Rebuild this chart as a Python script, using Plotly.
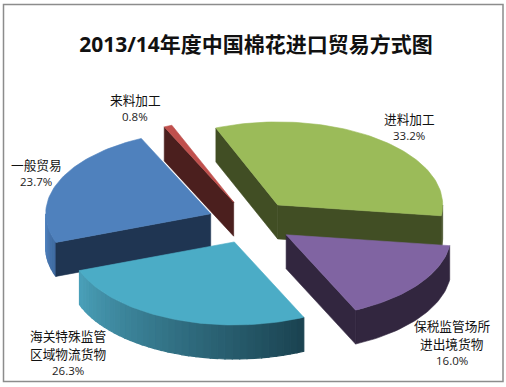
import math
import plotly.graph_objects as go

title = "2013/14年度中国棉花进口贸易方式图"
categories = ["进料加工", "保税监管场所\n进出境货物", "海关特殊监管\n区域物流货物", "一般贸易", "来料加工"]
values = [33.2, 16.0, 26.3, 23.7, 0.8]

top_colors = ["#9BBB59", "#8064A2", "#4BACC6", "#4F81BD", "#C0504D"]
face_colors = ["#414E24", "#32263F", "#1F4A58", "#1F3552", "#4B1F1E"]
wall_from = [(65, 78, 36), (50, 38, 63), (74, 160, 185), (79, 129, 189), (75, 31, 30)]
wall_to = [(65, 78, 36), (50, 38, 63), (26, 66, 80), (62, 105, 158), (75, 31, 30)]
label_pos = [(409, 118), (452, 325), (68, 335), (36, 164), (135, 99)]

W, H = 506, 387
CX, CY, RX, RY = 251, 222, 165, 83
EX, EY, DEPTH = 43.6, 21.6, 34
START = -22.0


def pt(c, deg, dy=0.0):
    a = math.radians(deg)
    return c[0] + RX * math.sin(a), c[1] - RY * math.cos(a) + dy


def poly(fig, pts, color, lw=0.6):
    fig.add_trace(go.Scatter(
        x=[p[0] for p in pts] + [pts[0][0]], y=[p[1] for p in pts] + [pts[0][1]],
        mode="lines", fill="toself", fillcolor=color,
        line=dict(color=color, width=lw), hoverinfo="skip", showlegend=False))


def arc(c, a, b, dy=0.0):
    n = max(4, int(abs(b - a) / 1.5))
    return [pt(c, a + (b - a) * k / n, dy) for k in range(n + 1)]


slices = []
angle = START
total = sum(values)
for i, v in enumerate(values):
    sweep = v / total * 360
    mid = math.radians(angle + sweep / 2)
    centre = (CX + EX * math.sin(mid), CY - EY * math.cos(mid))
    slices.append((i, angle, angle + sweep, centre))
    angle += sweep

fig = go.Figure()
for i, a0, a1, c in [slices[k] for k in (4, 0, 3, 1, 2)]:
    # outer wall
    lo, hi = max(a0, 90), min(a1, 270)
    if hi > lo:
        if wall_from[i] == wall_to[i]:
            poly(fig, arc(c, lo, hi) + arc(c, hi, lo, DEPTH), face_colors[i])
        else:
            strips = max(2, int((hi - lo) / 2.5))
            step = (hi - lo) / strips
            for s in range(strips):
                b0 = lo + step * s
                t = 1 - (s + 0.5) / strips
                rgb = [round(wall_from[i][k] + (wall_to[i][k] - wall_from[i][k]) * t) for k in range(3)]
                col = f"rgb({rgb[0]},{rgb[1]},{rgb[2]})"
                poly(fig, arc(c, b0, b0 + step) + arc(c, b0 + step, b0, DEPTH), col, 1.2)
    # radial faces whose outward normal looks towards the viewer
    for edge, normal in ((a0, a0 - 90), (a1, a1 + 90)):
        if math.cos(math.radians(normal)) < 0:
            e = pt(c, edge)
            poly(fig, [c, e, (e[0], e[1] + DEPTH), (c[0], c[1] + DEPTH)], face_colors[i])
    # top surface
    poly(fig, [c] + arc(c, a0, a1), top_colors[i])

notes = []
base = dict(showarrow=False, xref="x", yref="y", xanchor="center", yanchor="middle")
for name, v, (lx, ly) in zip(categories, values, label_pos):
    lines = name.split("\n")
    for j, line in enumerate(lines):
        notes.append(dict(base, x=lx, y=ly + j * 18.5, text=line,
                          font=dict(family="Noto Sans CJK SC", size=12.7, color="#111111")))
    notes.append(dict(base, x=lx, y=ly + len(lines) * 17.5, text=f"{v:.1f}%",
                      font=dict(family="Open Sans", size=11.5, color="#222222")))

fig.update_layout(
    width=W, height=H, margin=dict(l=0, r=0, t=0, b=0), showlegend=False,
    paper_bgcolor="white", plot_bgcolor="white",
    title=dict(text=title, x=256 / W, y=1 - 45 / H, xanchor="center", yanchor="middle",
               font=dict(family="Open Sans, Noto Sans CJK SC", size=21, color="#111111", weight=700)),
    xaxis=dict(range=[0, W], visible=False, fixedrange=True),
    yaxis=dict(range=[H, 0], visible=False, fixedrange=True),
    annotations=notes,
    shapes=[dict(type="rect", xref="x", yref="y", x0=3.5, y0=4.5, x1=503, y1=381.5,
                 line=dict(color="#8C8C8C", width=1.5), layer="above")],
)
fig.write_html("out.html", config=dict(displayModeBar=False),
               post_script="document.body.style.margin='0';")
